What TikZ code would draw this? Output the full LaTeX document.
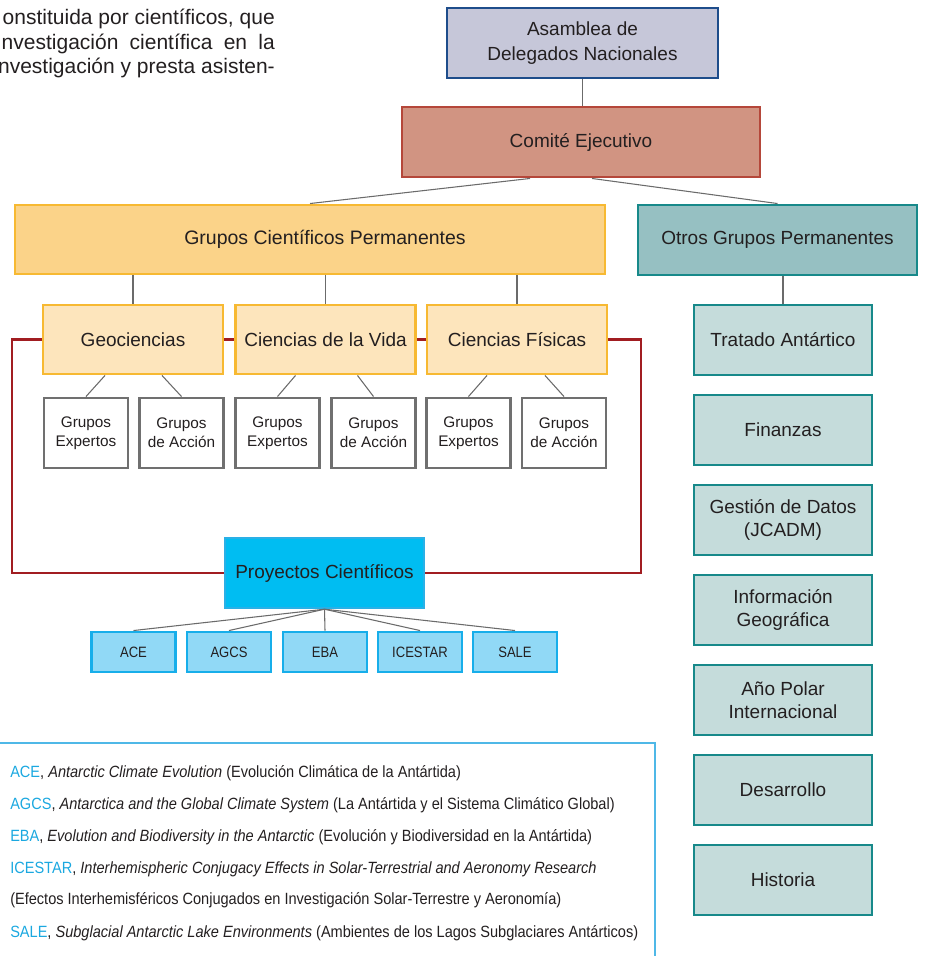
\documentclass[tikz,border=0pt]{standalone}
\usepackage{fontspec}
\setmainfont{Liberation Sans}
\newfontfamily\narrowfam[FakeStretch=0.895]{Liberation Sans}
\newfontfamily\acrfam[FakeStretch=0.87]{Liberation Sans}
\usetikzlibrary{calc}
\definecolor{txt}{HTML}{231F20}
\definecolor{asmF}{HTML}{C6C7D9}\definecolor{asmB}{HTML}{1E4D8B}
\definecolor{comF}{HTML}{D19482}\definecolor{comB}{HTML}{B5473A}
\definecolor{gcpF}{HTML}{FBD389}\definecolor{yelB}{HTML}{F7B932}
\definecolor{geoF}{HTML}{FDE5BC}
\definecolor{otrF}{HTML}{96C0C2}\definecolor{tealB}{HTML}{17898A}
\definecolor{rcF}{HTML}{C5DCDB}
\definecolor{grpB}{HTML}{707070}
\definecolor{redL}{HTML}{A11D21}
\definecolor{proF}{HTML}{00BDF2}\definecolor{proB}{HTML}{2AB0E6}
\definecolor{acrF}{HTML}{91D9F6}\definecolor{acrB}{HTML}{17AEEA}
\definecolor{conn}{HTML}{6B6B6B}
\definecolor{legC}{HTML}{1BA8E0}
\definecolor{legB}{HTML}{4FB8E7}
\newcommand\fTitle{\fontsize{14.25pt}{18.75pt}\selectfont}
\newcommand\fGcp{\fontsize{14.6pt}{18.75pt}\selectfont}
\newcommand\fRight{\fontsize{14.25pt}{17.25pt}\selectfont}
\newcommand\fGrp{\fontsize{11.5pt}{14.25pt}\selectfont}
\newcommand\fAcr{\acrfam\fontsize{11.25pt}{13pt}\selectfont}
\newcommand\fLeg{\narrowfam\fontsize{12.2pt}{15pt}\selectfont}
\newcommand\fPar{\fontsize{15.75pt}{18.75pt}\selectfont}
\begin{document}
\begin{tikzpicture}[x=0.75pt,y=-0.75pt,
  box/.style={rectangle, inner sep=0pt, align=center, text=txt, line width=2.2pt},
  sz/.style 2 args={minimum width=#1*0.75pt, minimum height=#2*0.75pt},
  asmS/.style={box, draw=asmB, fill=asmF, font=\fTitle, sz={271}{70}},
  comS/.style={box, draw=comB, fill=comF, font=\fTitle, sz={358}{70}},
  gcpS/.style={box, draw=yelB, fill=gcpF, font=\fGcp, sz={590}{69}},
  otrS/.style={box, draw=tealB, fill=otrF, font=\fTitle, sz={279}{70}},
  areaS/.style={box, draw=yelB, fill=geoF, font=\fTitle, sz={180}{69}},
  grpS/.style={box, draw=grpB, fill=white, font=\fGrp, sz={84}{70}},
  proS/.style={box, draw=proB, fill=proF, font=\fTitle, sz={199}{70}, line width=1.8pt},
  acrS/.style={box, draw=acrB, fill=acrF, font=\fAcr, sz={84}{40}},
  rcS/.style={box, draw=tealB, fill=rcF, font=\fRight, sz={178}{70}},
  connS/.style={draw=conn, line width=0.8pt},
  redS/.style={draw=redL, line width=1.9pt},
  legS/.style={anchor=base west, inner sep=0pt, text=txt, font=\fLeg},
  parS/.style={anchor=base east, inner sep=0pt, text=txt, font=\fPar}
]
\useasboundingbox (0,0) rectangle (930,956);

% paragraph (cut off at the left)
\node[parS] (p1) at (275,25) {onstituida por científicos, que};
\node[parS] (p2) at (275,50) {\makebox[204.75pt][s]{nvestigación científica en la}};
\node[parS] (p3) at (275,74) {nvestigación y presta asisten-};

% red frame coordinates
\coordinate (frTL) at (12,339.5);
\coordinate (frBR) at (641,570);

% nodes
\node[asmS] (asm) at (582.5,43) {Asamblea de\\Delegados Nacionales};
\node[comS] (com) at (581,142) {Comité Ejecutivo};
\node[gcpS] (gcp) at (310,239.5) {\hspace*{22.5pt}Grupos Científicos Permanentes};
\node[otrS] (otr) at (777.5,240) {Otros Grupos Permanentes};

\node[proS] (pro) at (324.5,573) {Proyectos Científicos};

\node[areaS] (geo) at (133,339.5) {Geociencias};
\node[areaS] (cdv) at (325.5,339.5) {Ciencias de la Vida};
\node[areaS] (cf)  at (517,339.5) {Ciencias Físicas};

% red frame
\draw[redS] (geo.west) -- (frTL) |- (pro.west);
\draw[redS] (pro.east) -| (frBR);
\draw[redS] (cf.east) -| (frBR);
\draw[redS] (geo.east) -- (cdv.west);
\draw[redS] (cdv.east) -- (cf.west);

\node[grpS] (ge1) at (86,433) {Grupos\\Expertos};
\node[grpS] (ga1) at (181.5,433) {Grupos\\de Acción};
\node[grpS] (ge2) at (277.5,433) {Grupos\\Expertos};
\node[grpS] (ga2) at (373.5,433) {Grupos\\de Acción};
\node[grpS] (ge3) at (468.5,433) {Grupos\\Expertos};
\node[grpS] (ga3) at (564,433) {Grupos\\de Acción};

\node[acrS] (ace) at (133.5,652) {ACE};
\node[acrS] (agcs) at (229,652) {AGCS};
\node[acrS] (eba) at (325,652) {EBA};
\node[acrS] (ices) at (420,652) {ICESTAR};
\node[acrS] (sale) at (515,652) {SALE};

\node[rcS] (r1) at (783,340) {Tratado Antártico};
\node[rcS] (r2) at (783,430) {Finanzas};
\node[rcS] (r3) at (783,520) {Gestión de Datos\\(JCADM)};
\node[rcS] (r4) at (783,610) {Información\\Geográfica};
\node[rcS] (r5) at (783,700) {Año Polar\\Internacional};
\node[rcS] (r6) at (783,790) {Desarrollo};
\node[rcS] (r7) at (783,880) {Historia};

% connectors
\draw[connS] (asm.south) -- (asm.south |- com.north);
\draw[connS] ($(com.south)+(-51,0)$) -- (gcp.north);
\draw[connS] ($(com.south)+(11,0)$) -- (otr.north);
\draw[connS] (geo.north) -- (geo.north |- gcp.south);
\draw[connS] (cdv.north) -- (cdv.north |- gcp.south);
\draw[connS] (cf.north) -- (cf.north |- gcp.south);
\draw[connS] (r1.north) -- (r1.north |- otr.south);
\draw[connS] ($(geo.south)+(-28,0)$) -- (ge1.north);
\draw[connS] ($(geo.south)+(29,0)$) -- (ga1.north);
\draw[connS] ($(cdv.south)+(-30,0)$) -- (ge2.north);
\draw[connS] ($(cdv.south)+(32,0)$) -- (ga2.north);
\draw[connS] ($(cf.south)+(-30,0)$) -- (ge3.north);
\draw[connS] ($(cf.south)+(28,0)$) -- (ga3.north);
\foreach \t in {ace,agcs,eba,ices,sale} \draw[connS] (pro.south) -- (\t.north);

% legend
\coordinate (lgA) at (0,743);
\coordinate (lgB) at (655,743);
\coordinate (lgC) at (655,960);
\draw[draw=legB, line width=0.9pt] (lgA) -- (lgB) -- (lgC);
\node[legS] (l1) at (10,777) {{\color{legC}ACE}, \textit{Antarctic Climate Evolution} (Evolución Climática de la Antártida)};
\node[legS] (l2) at (10,809) {{\color{legC}AGCS}, \textit{Antarctica and the Global Climate System} (La Antártida y el Sistema Climático Global)};
\node[legS] (l3) at (10,841) {{\color{legC}EBA}, \textit{Evolution and Biodiversity in the Antarctic} (Evolución y Biodiversidad en la Antártida)};
\node[legS] (l4) at (10,873) {{\color{legC}ICESTAR}, \textit{Interhemispheric Conjugacy Effects in Solar-Terrestrial and Aeronomy Research}};
\node[legS] (l5) at (10,904) {(Efectos Interhemisféricos Conjugados en Investigación Solar-Terrestre y Aeronomía)};
\node[legS] (l6) at (10,937) {{\color{legC}SALE}, \textit{Subglacial Antarctic Lake Environments} (Ambientes de los Lagos Subglaciares Antárticos)};
\end{tikzpicture}
\end{document}
